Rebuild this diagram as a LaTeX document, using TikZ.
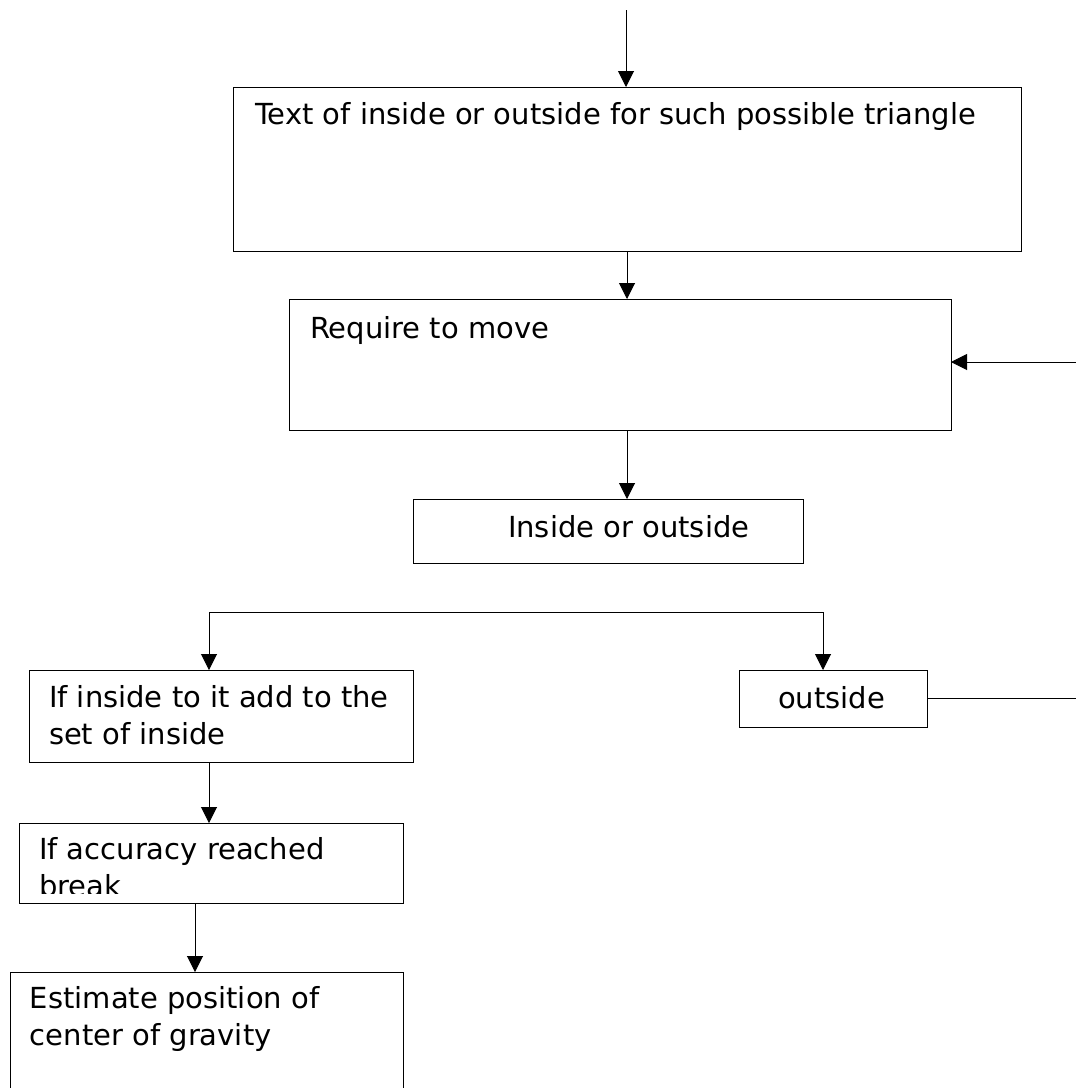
\documentclass[tikz,border=0pt]{standalone}
\usepackage{fontspec}
\setmainfont{DejaVu Sans}
\usetikzlibrary{arrows.meta}

\begin{document}
\begin{tikzpicture}[x=1pt, y=-1pt, line width=1pt,
    every node/.style={inner sep=0pt, outer sep=0pt},
    box/.style={draw, rectangle},
    txt/.style={anchor=base west, align=left, font=\fontsize{29}{37}\selectfont},
    arr/.style={-{Triangle[length=16pt,width=16pt]}}]
  \clip (0,0) rectangle (1076,1088);
  % boxes
  \node[box, minimum width=788pt, minimum height=164pt] (b1) at (627,169) {};
  \node[box, minimum width=662pt, minimum height=131pt] (b2) at (620,364.5) {};
  \node[box, minimum width=390pt, minimum height=64pt] (b3) at (608,531) {};
  \node[box, minimum width=384pt, minimum height=92pt] (b4) at (221,716) {};
  \node[box, minimum width=188pt, minimum height=57pt] (b5) at (833,698.5) {};
  \node[box, minimum width=384pt, minimum height=80pt] (b6) at (211,863) {};
  \node[box, minimum width=393pt, minimum height=128pt] (b7) at (206.5,1036) {};
  % texts (multi-line ones sit on their last baseline)
  \node[txt] (t1) at (255,124) {Text of inside or outside for such possible triangle};
  \node[txt] (t2) at (310,338) {Require to move};
  \node[txt] (t3) at (508,537) {Inside or outside};
  \node[txt] (t4) at (49,744) {If inside to it add to the\\set of inside};
  \node[txt] (t5) at (778,708) {outside};
  \begin{scope}
    \clip (b6.north west) rectangle ([yshift=10pt]b6.south east);
    \node[txt] (t6) at (39,896) {If accuracy reached\\break};
  \end{scope}
  \node[txt] (t7) at (30,1045) {Estimate position of\\center of gravity};
  % connectors
  \coordinate (in) at (626,10);
  \coordinate (back) at (1076,362);
  \coordinate (out) at (1076,698.5);
  \coordinate (sl) at (209,612);
  \coordinate (sr) at (823,612);
  \draw[arr] (in) -- (in |- b1.north);
  \draw[arr] (b1.south) -- (b1.south |- b2.north);
  \draw[arr] (b1.south |- b2.south) -- (b1.south |- b3.north);
  \draw[arr] (back) -- (back -| b2.east);
  \draw (sl) -- (sr);
  \draw[arr] (sl) -- (sl |- b4.north);
  \draw[arr] (sr) -- (sr |- b5.north);
  \draw (b5.east) -- (out);
  \draw[arr] (sl |- b4.south) -- (sl |- b6.north);
  \draw[arr] ([xshift=-16pt]b6.south) -- ([xshift=-16pt]b6.south |- b7.north);
\end{tikzpicture}
\end{document}
